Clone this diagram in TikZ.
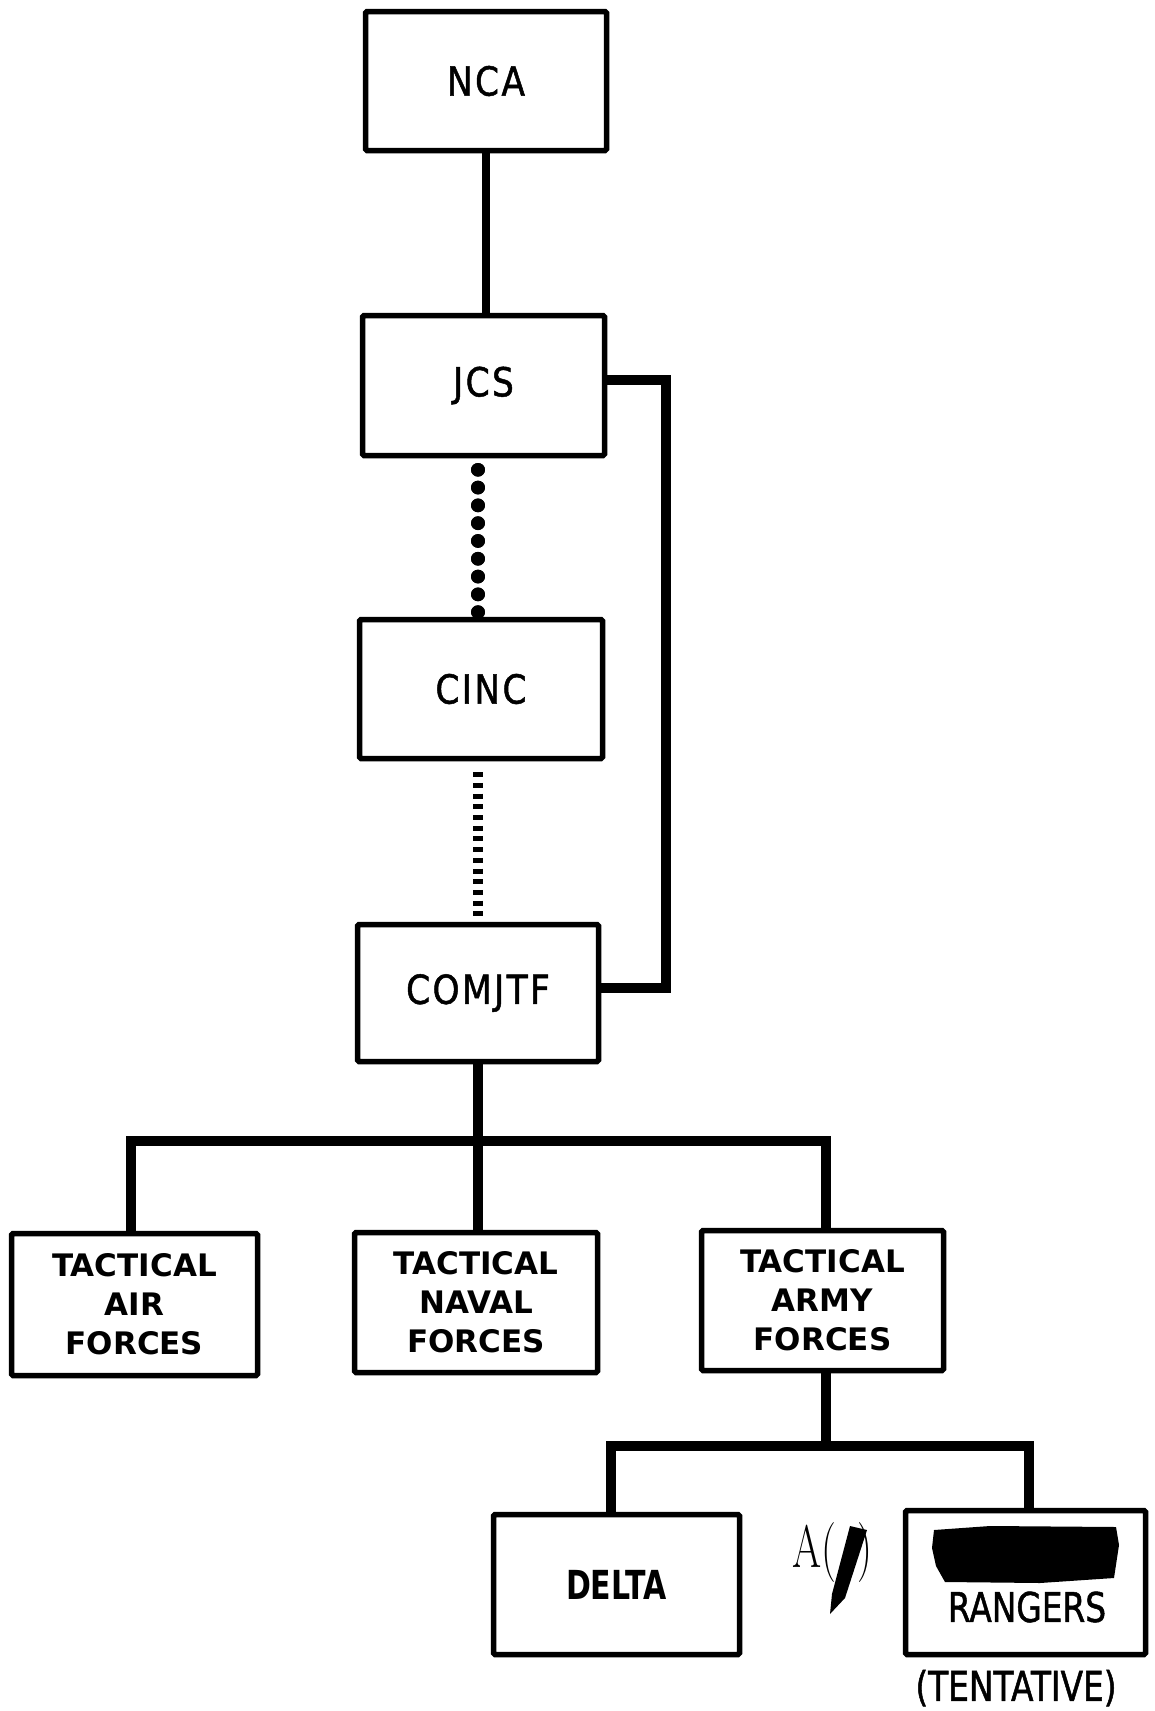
\documentclass[tikz,border=0pt]{standalone}
\usepackage{fontspec}
\usetikzlibrary{calc}
\newfontfamily\topfont[FakeStretch=0.86,LetterSpace=6,FakeBold=1.2]{DejaVu Sans}
\newfontfamily\tacfont{DejaVu Sans}
\newfontfamily\narrowfont[FakeStretch=0.80,FakeBold=1.2]{DejaVu Sans}
\newfontfamily\deltafont[FakeStretch=0.75]{DejaVu Sans}
\begin{document}
\begin{tikzpicture}[x=1pt,y=-1pt,
  box/.style={draw,line width=5.5pt,inner sep=0pt,rounded corners=1.5pt},
  toplab/.style={font=\topfont\fontsize{40}{44}\selectfont},
  taclab/.style={align=center,font=\tacfont\bfseries\fontsize{31}{39}\selectfont},
  heavy/.style={line width=9.5pt,line join=miter},
  beads/.style={line width=13.5pt,line cap=round,dash pattern=on 0.2pt off 17.6pt},
  ticks/.style={line width=10pt,dash pattern=on 5pt off 5.7pt}]
\useasboundingbox (0,0) rectangle (1155,1711);

% boxes
\node[box,toplab,minimum width=241pt,minimum height=139pt] (NCA) at (486,81) {NCA};
\node[box,toplab,minimum width=242pt,minimum height=140pt] (JCS) at (483.5,385.5) {JCS};
\node[box,toplab,minimum width=243pt,minimum height=139pt] (CINC) at (481,689) {CINC};
\node[box,toplab,minimum width=241pt,minimum height=137pt] (COMJTF) at (478,993) {COMJTF};
\node[box,taclab,minimum width=246pt,minimum height=142pt] (Air) at (134.5,1304.5) {TACTICAL\\AIR\\FORCES};
\node[box,taclab,minimum width=243pt,minimum height=140pt] (Naval) at (476,1302.5) {TACTICAL\\NAVAL\\FORCES};
\node[box,taclab,minimum width=242pt,minimum height=140pt] (Army) at (822.5,1300.5) {TACTICAL\\ARMY\\FORCES};
\node[box,minimum width=246pt,minimum height=140pt,font=\deltafont\bfseries\fontsize{40}{40}\selectfont] (Delta) at (616.5,1584.5) {DELTA};
\node[box,minimum width=240pt,minimum height=144pt] (Rangers) at (1025.5,1582.5) {};

% contents of the Rangers box
\fill (934,1530) -- (990,1526) -- (1116,1527) -- (1119,1545) -- (1114,1578) -- (1040,1583) -- (945,1582) -- (936,1566) -- (932,1548) -- cycle;
\node[font=\narrowfont\fontsize{41}{41}\selectfont] (rlab) at (1027,1607) {RANGERS};
\node[font=\narrowfont\fontsize{41}{41}\selectfont] (tent) at (1016,1688) {(TENTATIVE)};

% handwritten mark
\node (ann) at (832,1553) {\scalebox{0.7}[1]{\fontsize{60}{60}\selectfont A(\kern 30pt)}};
\fill (850,1526) -- (867,1530) -- (845,1598) -- (830,1614) -- (832,1594) -- cycle;

% connectors
\draw[line width=8pt] (NCA.south) -- (NCA.south |- JCS.north);
\coordinate (jr) at (666,380);
\draw[line width=10.5pt,line join=miter] (JCS.east |- jr) -- (jr) |- ($(COMJTF.east)+(0,-5)$);
\coordinate (bt) at ($(COMJTF.north |- JCS.south)+(0,11.5)$);
\coordinate (bb) at ($(bt)+(0,142.4)$);
\draw[beads] (bt) -- (bb);
\draw[beads] (bb) -- (bt);
\draw[ticks] ($(COMJTF.north |- CINC.south)+(0,11)$) -- ($(COMJTF.north)+(0,-6)$);
\coordinate (bus1) at (478,1141);
\draw[heavy] (COMJTF.south) -- (COMJTF.south |- Naval.north);
\draw[heavy] ($(Air.north)+(-3.5,0)$) |- (bus1) -| ($(Army.north)+(3.5,0)$);
\coordinate (bus2) at (826,1446);
\draw[heavy] ($(Army.south)+(3.5,0)$) -- (bus2);
\draw[heavy] ($(Delta.north)+(-5.5,0)$) |- (bus2) -| ($(Rangers.north)+(3.5,0)$);
\end{tikzpicture}
\end{document}
